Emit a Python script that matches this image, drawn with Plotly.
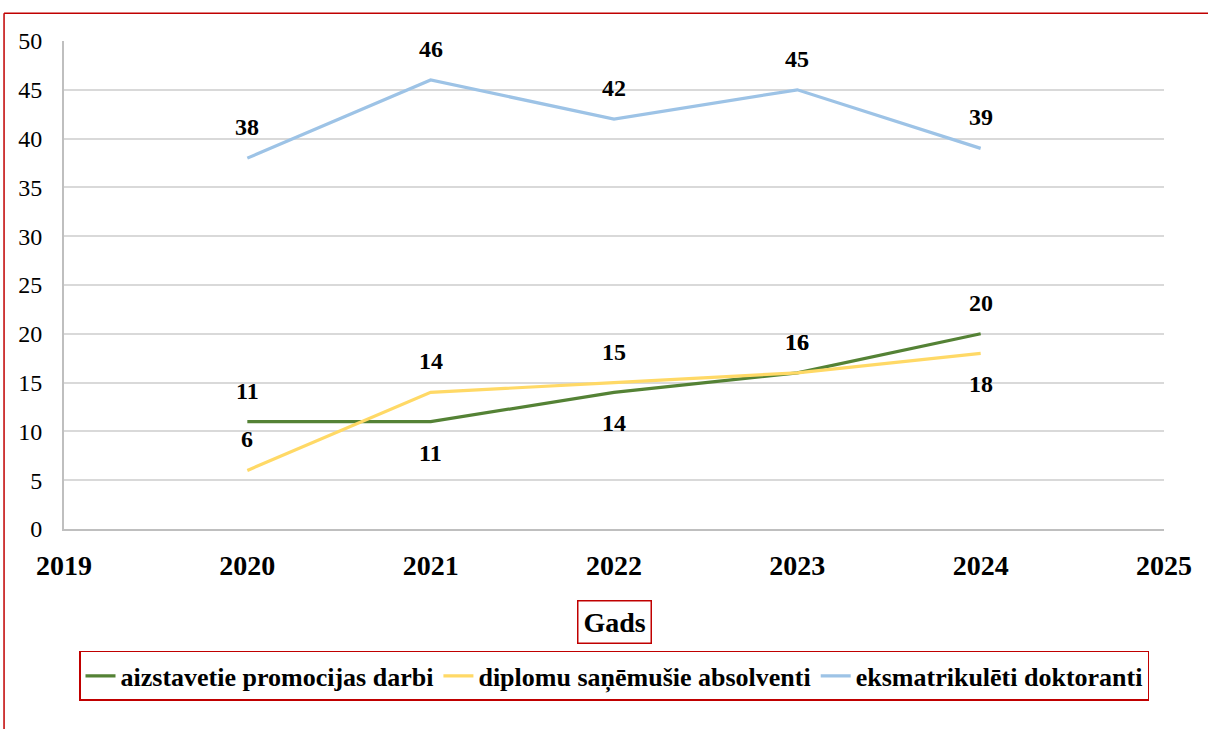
import plotly.graph_objects as go

# ------------------------------------------------------------
# Data
# ------------------------------------------------------------
years = [2020, 2021, 2022, 2023, 2024]
promocijas = [11, 11, 14, 16, 20]
diplomu = [6, 14, 15, 16, 18]
eksmatrikuleti = [38, 46, 42, 45, 39]

series_names = ["aizstavetie promocijas darbi",
                "diplomu saņēmušie absolventi",
                "eksmatrikulēti doktoranti"]
colors = ["#548235", "#FFD966", "#9DC3E6"]

# label side per point: +1 above, -1 below
promocijas_side = [1, -1, -1, 1, 1]
diplomu_side = [1, 1, 1, 1, -1]
eksmatrikuleti_side = [1, 1, 1, 1, 1]

FONT = "Liberation Serif"

fig = go.Figure()
for name, vals, color in zip(series_names,
                             [promocijas, diplomu, eksmatrikuleti], colors):
    fig.add_trace(go.Scatter(x=years, y=vals, mode="lines", name=name,
                             line=dict(color=color, width=3.2)))

# data labels
annotations = []
for vals, sides in [(promocijas, promocijas_side), (diplomu, diplomu_side),
                    (eksmatrikuleti, eksmatrikuleti_side)]:
    for x, v, s in zip(years, vals, sides):
        annotations.append(dict(x=x, y=v, text=f"<b>{v}</b>", showarrow=False,
                                yshift=31 * s,
                                font=dict(family=FONT, size=24, color="black")))

# axis title with red box
annotations.append(dict(xref="paper", yref="paper", x=0.5, y=-0.191,
                        yanchor="middle",
                        text="<b>Gads</b>", showarrow=False,
                        font=dict(family=FONT, size=28, color="black"),
                        bordercolor="#C00000", borderwidth=1.5, borderpad=5,
                        bgcolor="white"))

fig.update_layout(
    width=1208, height=729,
    margin=dict(l=64, r=44, t=41, b=200),
    plot_bgcolor="white", paper_bgcolor="white",
    font=dict(family=FONT, color="black"),
    annotations=annotations,
    showlegend=True,
    legend=dict(orientation="h", x=0.5, xanchor="center", y=-0.301,
                yanchor="middle",
                font=dict(family=FONT, size=26, color="black", weight="bold"),
                bordercolor="#C00000", borderwidth=1.5,
                itemwidth=30, tracegroupgap=0),
    xaxis=dict(range=[2019, 2025], dtick=1, tick0=2019,
               showgrid=False, zeroline=False,
               showline=True, linecolor="#bfbfbf", linewidth=2,
               ticks="", ticklabelstandoff=10,
               tickfont=dict(family=FONT, size=28, color="black", weight="bold")),
    yaxis=dict(range=[0, 50], dtick=5, tick0=0,
               showgrid=True, gridcolor="#d9d9d9", gridwidth=1.5,
               zeroline=False,
               showline=True, linecolor="#bfbfbf", linewidth=2,
               ticks="", ticklabelstandoff=15,
               tickfont=dict(family=FONT, size=24, color="black")),
    shapes=[
        # outer red frame (top and left visible)
        dict(type="line", xref="paper", yref="paper",
             x0=-0.0545, x1=1.05, y0=1.057, y1=1.057,
             line=dict(color="#C00000", width=1.5)),
        dict(type="line", xref="paper", yref="paper",
             x0=-0.0545, x1=-0.0545, y0=1.057, y1=-0.42,
             line=dict(color="#C00000", width=1.5)),
    ],
)

fig.write_html("out.html", config={"displayModeBar": False},
               post_script="document.body.style.margin='0';")
